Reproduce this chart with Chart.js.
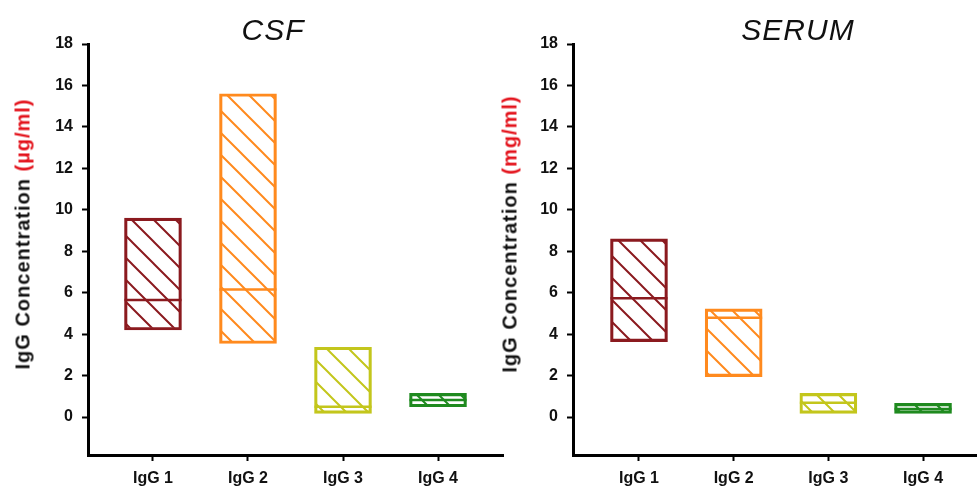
<!DOCTYPE html>
<html>
<head>
<meta charset="utf-8">
<script src="https://cdn.jsdelivr.net/npm/chart.js@4/dist/chart.umd.min.js"></script>
<style>
  body { margin: 0; background: #fff; font-family: "Liberation Sans", Arial, sans-serif; }
  #wrap { position: relative; width: 977px; height: 488px; overflow: hidden; }
  .panel { position: absolute; top: 0; }
  .title { position: absolute; font-size: 30px; font-style: italic; letter-spacing: 1px; color: #111;
           transform: translate(-50%, -50%); white-space: nowrap; }
  .ytitle { position: absolute; font-size: 20px; font-weight: bold; color: #111; letter-spacing: 1px;
            white-space: nowrap; transform: translate(-50%, -50%) rotate(-90deg); }
  .ytitle span { color: #e3121b; }
</style>
</head>
<body>
<div id="wrap">
  <div class="panel" style="left:0;width:510px;height:488px"><canvas id="csf" width="510" height="488"></canvas></div>
  <div class="panel" style="left:488px;width:489px;height:488px"><canvas id="serum" width="489" height="488"></canvas></div>
  <div class="title" style="left:273px;top:30px">CSF</div>
  <div class="title" style="left:798px;top:30px">SERUM</div>
  <div class="ytitle" style="left:23px;top:234px">IgG Concentration <span>(µg/ml)</span></div>
  <div class="ytitle" style="left:510px;top:234px">IgG Concentration <span>(mg/ml)</span></div>
</div>
<script>
// data
const categories = ['IgG 1', 'IgG 2', 'IgG 3', 'IgG 4'];
const colors = ['#8b1a1f', '#ff8a1e', '#c3c61c', '#1f8a1f'];
const yTicks = [0, 2, 4, 6, 8, 10, 12, 14, 16, 18];

const csfLow    = [4.2, 3.55, 0.18, 0.5];
const csfHigh   = [9.6, 15.6, 3.37, 1.14];
const csfMedian = [5.65, 6.16, 0.5, 0.82];

const serumLow    = [3.64, 1.95, 0.18, 0.18];
const serumHigh   = [8.6, 5.22, 1.14, 0.66];
const serumMedian = [5.73, 4.79, 0.69, 0.39];

function hatch(color) {
    const size = 22;
    const c = document.createElement('canvas');
    c.width = size; c.height = size;
    const g = c.getContext('2d');
    g.strokeStyle = color;
    g.lineWidth = 2;
    g.beginPath();
    g.moveTo(-2, -2); g.lineTo(size + 2, size + 2);
    g.moveTo(-2, size - 2); g.lineTo(2, size + 2);
    g.moveTo(size - 2, -2); g.lineTo(size + 2, 2);
    g.stroke();
    return g.createPattern(c, 'repeat');
}

function makeChart(id, low, high, median, opts) {
    const ctx = document.getElementById(id).getContext('2d');
    const bars = categories.map((c, i) => ({ x: i + 1, y: [low[i], high[i]] }));
    const meds = categories.map((c, i) => ({ x: i + 1, y: median[i] }));
    return new Chart(ctx, {
        type: 'bar',
        data: {
            datasets: [
                {
                    data: bars,
                    backgroundColor: colors.map(hatch),
                    borderColor: colors,
                    borderWidth: 2.5,
                    borderSkipped: false,
                    barThickness: 57
                },
                {
                    type: 'scatter',
                    data: meds,
                    pointStyle: 'line',
                    pointRadius: 28.5,
                    pointBorderWidth: 2.5,
                    pointBorderColor: colors,
                    pointBackgroundColor: colors
                }
            ]
        },
        options: {
            responsive: false,
            animation: false,
            layout: { autoPadding: false, padding: { left: 0, top: 44, right: opts.padRight, bottom: 0 } },
            plugins: { legend: { display: false }, tooltip: { enabled: false } },
            scales: {
                x: {
                    type: 'linear',
                    offset: false,
                    min: opts.xMin,
                    max: opts.xMax,
                    afterBuildTicks: s => { s.ticks = categories.map((c, i) => ({ value: i + 1 })); },
                    afterFit: s => { s.height = 33; s.paddingLeft = 0; s.paddingRight = 0; },
                    border: { display: true, color: '#000', width: 3 },
                    grid: { display: true, offset: false, drawOnChartArea: false, drawTicks: true, tickLength: 6, tickWidth: 2, tickColor: '#000' },
                    ticks: {
                        padding: 8,
                        color: '#111',
                        maxRotation: 0,
                        font: { family: 'Liberation Sans', size: 16, weight: 'bold' },
                        callback: v => categories[v - 1]
                    }
                },
                y: {
                    min: -1.83,
                    max: 18,
                    afterBuildTicks: s => { s.ticks = yTicks.map(v => ({ value: v })); },
                    afterFit: s => { s.width = opts.yWidth; },
                    border: { display: true, color: '#000', width: 3 },
                    grid: { display: true, drawOnChartArea: false, drawTicks: true, tickLength: 6, tickWidth: 2, tickColor: '#000' },
                    ticks: {
                        padding: 9,
                        color: '#111',
                        font: { family: 'Liberation Sans', size: 16, weight: 'bold' }
                    }
                }
            }
        }
    });
}

makeChart('csf', csfLow, csfHigh, csfMedian, { xMin: 0.316, xMax: 4.684, padRight: 7, yWidth: 88 });
makeChart('serum', serumLow, serumHigh, serumMedian, { xMin: 0.303, xMax: 4.57, padRight: 0, yWidth: 85 });
</script>
</body>
</html>
